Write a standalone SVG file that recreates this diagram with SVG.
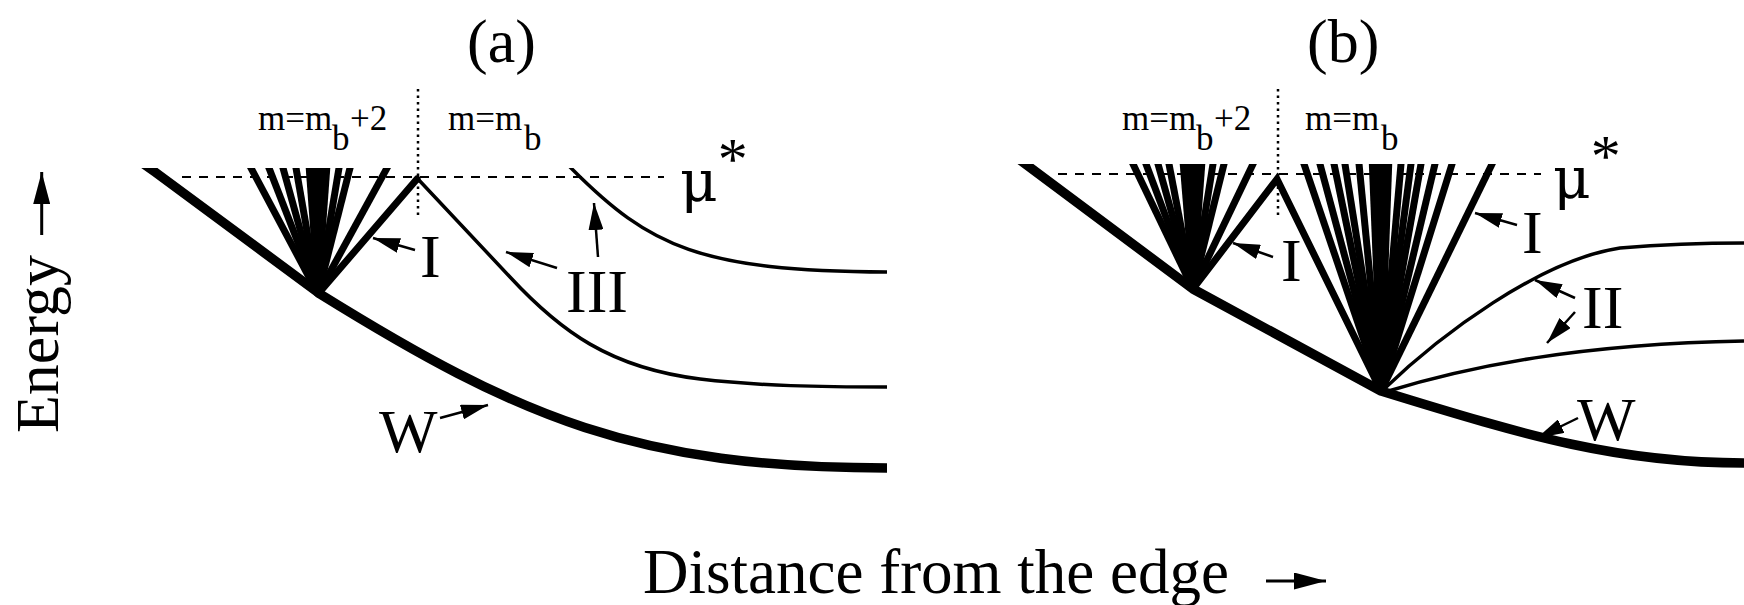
<svg xmlns="http://www.w3.org/2000/svg" width="1744" height="605" viewBox="0 0 1744 605">
<style>
text { font-family: "Liberation Serif", "Times New Roman", serif; fill: #000; }
.big { font-size: 62px; }
.lab { font-size: 35px; }
.mu { font-family: "DejaVu Serif", "Liberation Serif", serif; font-size: 58px; }
.ast { font-size: 60px; }
.wall { fill: none; stroke: #000; stroke-width: 9.5; stroke-linejoin: round; }
.fan { fill: none; stroke: #000; stroke-width: 7; }
.blk { fill: #000; stroke: none; }
.thin { fill: none; stroke: #000; stroke-width: 3.5; }
.arr { fill: none; stroke: #000; stroke-width: 2.5; marker-end: url(#ah); }
.axarr { fill: none; stroke: #000; stroke-width: 3; marker-end: url(#ahL); }
.dash { stroke: #000; stroke-width: 2; stroke-dasharray: 9 8; }
.dot { stroke: #000; stroke-width: 2.5; stroke-dasharray: 2.5 4; }
</style>
<defs>
<marker id="ah" viewBox="0 0 27 15" refX="27" refY="7.5" markerWidth="27" markerHeight="15" markerUnits="userSpaceOnUse" orient="auto"><path d="M0,0 L27,7.5 L0,15 Z"/></marker>
<marker id="ahL" viewBox="0 0 32 17" refX="32" refY="8.5" markerWidth="32" markerHeight="17" markerUnits="userSpaceOnUse" orient="auto"><path d="M0,0 L32,8.5 L0,17 Z"/></marker>
<clipPath id="clipA"><rect x="0" y="168" width="900" height="437"/></clipPath>
<clipPath id="clipB"><rect x="900" y="164" width="844" height="441"/></clipPath>
</defs>

<g id="axes">
<text class="big" transform="translate(58,433) rotate(-90)">Energy</text>
<text class="big" x="643" y="593" style="font-size:63px">Distance from the edge</text>
</g>

<g id="panel-a">
<text class="big" x="467" y="62">(a)</text>
<line class="dash" x1="182" y1="177" x2="664" y2="177"/>
<line class="dot" x1="418" y1="89" x2="418" y2="217"/>
<text class="lab" x="258" y="130">m=m<tspan x="332" y="150">b</tspan><tspan x="350" y="130">+2</tspan></text>
<text class="lab" x="448" y="130">m=m<tspan x="524" y="150">b</tspan></text>
<text x="680" y="201"><tspan class="mu">μ</tspan><tspan class="ast" dy="-22">*</tspan></text>
<g clip-path="url(#clipA)">
<path id="wall-a" class="wall" d="M141,162 L155,172 L320,294 C520,418 637,468 887,468"/>
<g id="fan-a">
<line class="fan" x1="318" y1="294" x2="244.3" y2="155.4"/>
<line class="fan" x1="318" y1="294" x2="264.1" y2="155.4"/>
<line class="fan" x1="318" y1="294" x2="279.5" y2="155.4"/>
<line class="fan" x1="318" y1="294" x2="293.8" y2="155.4"/>
<line class="fan" x1="318" y1="294" x2="341.1" y2="155.4"/>
<line class="fan" x1="318" y1="294" x2="353.2" y2="155.4"/>
<line class="fan" x1="318" y1="294" x2="393.9" y2="155.4"/>
<polygon class="blk" points="304.8,155.4 331.2,155.4 321,296 315,296"/>
</g>
<path id="III-upper-a" class="thin" d="M562,159 L572,169 C650,247 700,271 887,272"/>
</g>
<path id="I-line-a" class="fan" style="stroke-linecap:round" d="M318,294 L417,179"/>
<path id="III-lower-a" class="thin" d="M417,178 L510,277 C560,331 610,368 700,379 C760,386 820,387 887,387"/>
<text class="big" x="420" y="277">I</text>
<text class="big" x="566" y="312">III</text>
<text class="big" x="379" y="452">W</text>
</g>

<g id="panel-b">
<text class="big" x="1307" y="62">(b)</text>
<line class="dash" x1="1058" y1="174" x2="1541" y2="174"/>
<line class="dot" x1="1278" y1="89" x2="1278" y2="217"/>
<text class="lab" x="1122" y="130">m=m<tspan x="1196" y="150">b</tspan><tspan x="1214" y="130">+2</tspan></text>
<text class="lab" x="1305" y="130">m=m<tspan x="1381" y="150">b</tspan></text>
<text x="1553" y="198"><tspan class="mu">μ</tspan><tspan class="ast" dy="-22">*</tspan></text>
<g clip-path="url(#clipB)">
<path id="wall-b" class="wall" d="M1012,154 L1193,289 L1381,391 C1530,437 1620,463 1744,463"/>
<g id="fan-b1">
<line class="fan" x1="1193" y1="289" x2="1127" y2="151.5"/>
<line class="fan" x1="1193" y1="289" x2="1141.3" y2="151.5"/>
<line class="fan" x1="1193" y1="289" x2="1154.5" y2="151.5"/>
<line class="fan" x1="1193" y1="289" x2="1166.6" y2="151.5"/>
<line class="fan" x1="1193" y1="289" x2="1215" y2="151.5"/>
<line class="fan" x1="1193" y1="289" x2="1227.1" y2="151.5"/>
<line class="fan" x1="1193" y1="289" x2="1259" y2="151.5"/>
<polygon class="blk" points="1178.7,151.5 1206.2,151.5 1196,291 1190,291"/>
</g>
<g id="fan-b2">
<line class="fan" x1="1381" y1="391" x2="1299.4" y2="150.4"/>
<line class="fan" x1="1381" y1="391" x2="1316.3" y2="150.4"/>
<line class="fan" x1="1381" y1="391" x2="1331.2" y2="150.4"/>
<line class="fan" x1="1381" y1="391" x2="1342.8" y2="150.4"/>
<line class="fan" x1="1381" y1="391" x2="1357.7" y2="150.4"/>
<line class="fan" x1="1381" y1="391" x2="1402.2" y2="150.4"/>
<line class="fan" x1="1381" y1="391" x2="1412.8" y2="150.4"/>
<line class="fan" x1="1381" y1="391" x2="1423.4" y2="150.4"/>
<line class="fan" x1="1381" y1="391" x2="1438.2" y2="150.4"/>
<line class="fan" x1="1381" y1="391" x2="1456.3" y2="150.4"/>
<line class="fan" x1="1381" y1="391" x2="1498.7" y2="150.4"/>
<polygon class="blk" points="1368.3,150.4 1392.7,150.4 1384,393 1378,393"/>
</g>
</g>
<path id="peak-b" class="fan" style="stroke-linejoin:miter" d="M1193,289 L1277,179 L1381,391"/>
<path id="II-upper-b" class="thin" d="M1383,390 C1440,335 1540,260 1620,248 C1680,243 1720,243 1744,243"/>
<path id="II-lower-b" class="thin" d="M1385,392 C1470,366 1580,344 1744,341"/>
<text class="big" x="1281" y="281">I</text>
<text class="big" x="1522" y="253">I</text>
<text class="big" x="1582" y="328">II</text>
<text class="big" x="1577" y="440">W</text>
</g>

<g id="connectors">
<line class="axarr" x1="41.7" y1="235" x2="41.7" y2="172"/>
<line class="axarr" x1="1266" y1="581" x2="1326" y2="581"/>
<line class="arr" x1="415" y1="250" x2="373" y2="238"/>
<line class="arr" x1="557" y1="268" x2="506" y2="252"/>
<line class="arr" x1="598" y1="257" x2="594" y2="203"/>
<line class="arr" x1="440" y1="418" x2="488" y2="405"/>
<line class="arr" x1="1273" y1="257" x2="1233" y2="243"/>
<line class="arr" x1="1517" y1="225" x2="1475" y2="213"/>
<line class="arr" x1="1575" y1="298" x2="1535" y2="280"/>
<line class="arr" x1="1575" y1="312" x2="1547" y2="343"/>
<line class="arr" x1="1578" y1="418" x2="1537" y2="438"/>
</g>
</svg>
